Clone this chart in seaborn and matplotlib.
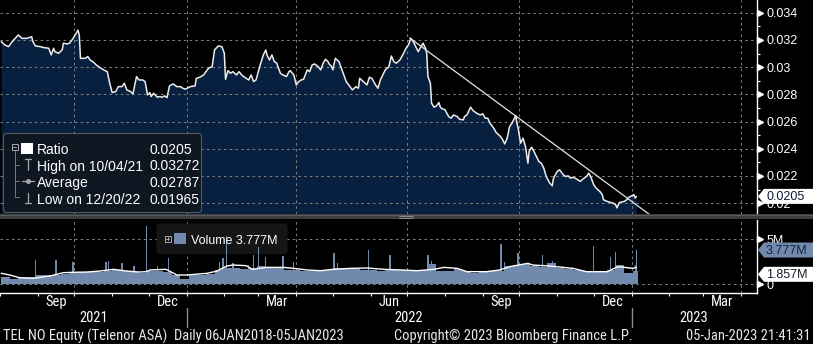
import numpy as np
import pandas as pd
import matplotlib
matplotlib.use("Agg")
import matplotlib.pyplot as plt
import matplotlib.dates as mdates
import matplotlib.transforms as mtransforms
from matplotlib import font_manager
from matplotlib.font_manager import FontProperties
from matplotlib.patches import Polygon, FancyBboxPatch, Rectangle
from matplotlib.lines import Line2D
from matplotlib.ticker import FixedLocator, FuncFormatter
import seaborn as sns

# ---------------------------------------------------------------- data
# TEL NO ratio, sampled closes
ratio_dates = [
    "2021-08-02", "2021-08-05", "2021-08-08", "2021-08-11", "2021-08-16", "2021-08-19",
    "2021-08-23", "2021-08-27", "2021-08-28", "2021-08-30", "2021-09-03", "2021-09-06",
    "2021-09-10", "2021-09-12", "2021-09-14", "2021-09-15", "2021-09-18", "2021-09-21",
    "2021-09-22", "2021-09-25", "2021-09-27", "2021-09-30", "2021-10-04", "2021-10-05",
    "2021-10-06", "2021-10-10", "2021-10-12", "2021-10-14", "2021-10-17", "2021-10-19",
    "2021-10-22", "2021-10-25", "2021-10-28", "2021-10-30", "2021-11-01", "2021-11-04",
    "2021-11-06", "2021-11-09", "2021-11-11", "2021-11-13", "2021-11-16", "2021-11-18",
    "2021-11-21", "2021-11-23", "2021-11-26", "2021-11-28", "2021-11-30", "2021-12-02",
    "2021-12-03", "2021-12-05", "2021-12-08", "2021-12-10", "2021-12-12", "2021-12-14",
    "2021-12-16", "2021-12-18", "2021-12-21", "2021-12-24", "2021-12-27", "2021-12-29",
    "2021-12-31", "2022-01-04", "2022-01-08", "2022-01-09", "2022-01-12", "2022-01-15",
    "2022-01-19", "2022-01-22", "2022-01-24", "2022-01-27", "2022-01-30", "2022-02-01",
    "2022-02-02", "2022-02-04", "2022-02-06", "2022-02-08", "2022-02-11", "2022-02-13",
    "2022-02-16", "2022-02-19", "2022-02-21", "2022-02-23", "2022-02-25", "2022-02-27",
    "2022-03-02", "2022-03-05", "2022-03-07", "2022-03-08", "2022-03-10", "2022-03-12",
    "2022-03-14", "2022-03-16", "2022-03-19", "2022-03-21", "2022-03-24", "2022-03-26",
    "2022-03-27", "2022-03-30", "2022-04-01", "2022-04-03", "2022-04-05", "2022-04-07",
    "2022-04-10", "2022-04-12", "2022-04-14", "2022-04-16", "2022-04-19", "2022-04-21",
    "2022-04-23", "2022-04-25", "2022-04-27", "2022-04-28", "2022-04-30", "2022-05-01",
    "2022-05-03", "2022-05-06", "2022-05-08", "2022-05-12", "2022-05-17", "2022-05-20",
    "2022-05-22", "2022-05-23", "2022-05-26", "2022-05-29", "2022-05-31", "2022-06-02",
    "2022-06-05", "2022-06-07", "2022-06-09", "2022-06-13", "2022-06-16", "2022-06-18",
    "2022-06-20", "2022-06-22", "2022-06-25", "2022-06-28", "2022-06-30", "2022-07-02",
    "2022-07-04", "2022-07-06", "2022-07-08", "2022-07-10", "2022-07-12", "2022-07-14",
    "2022-07-16", "2022-07-17", "2022-07-18", "2022-07-20", "2022-07-21", "2022-07-23",
    "2022-07-25", "2022-07-27", "2022-07-28", "2022-07-29", "2022-08-01", "2022-08-04",
    "2022-08-06", "2022-08-08", "2022-08-11", "2022-08-13", "2022-08-16", "2022-08-17",
    "2022-08-19", "2022-08-22", "2022-08-24", "2022-08-27", "2022-08-30", "2022-09-01",
    "2022-09-03", "2022-09-05", "2022-09-07", "2022-09-10", "2022-09-12", "2022-09-15",
    "2022-09-17", "2022-09-19", "2022-09-21", "2022-09-23", "2022-09-25", "2022-09-27",
    "2022-09-28", "2022-09-29", "2022-09-30", "2022-10-02", "2022-10-04", "2022-10-06",
    "2022-10-08", "2022-10-09", "2022-10-11", "2022-10-13", "2022-10-15", "2022-10-17",
    "2022-10-19", "2022-10-21", "2022-10-23", "2022-10-26", "2022-10-28", "2022-10-29",
    "2022-11-01", "2022-11-03", "2022-11-06", "2022-11-08", "2022-11-10", "2022-11-12",
    "2022-11-14", "2022-11-17", "2022-11-20", "2022-11-22", "2022-11-25", "2022-11-27",
    "2022-11-29", "2022-12-01", "2022-12-03", "2022-12-06", "2022-12-08", "2022-12-09",
    "2022-12-12", "2022-12-15", "2022-12-17", "2022-12-19", "2022-12-20", "2022-12-22",
    "2022-12-26", "2022-12-28", "2022-12-30", "2023-01-03", "2023-01-04", "2023-01-05",
]
ratio_values = [
    0.03188, 0.03163, 0.03151, 0.03188, 0.03237, 0.03212,
    0.03212, 0.03224, 0.03188, 0.03156, 0.03151, 0.03144,
    0.03139, 0.03090, 0.03139, 0.03114, 0.03102, 0.03127,
    0.03176, 0.03171, 0.03176, 0.03212, 0.03272, 0.03237,
    0.03065, 0.03065, 0.03078, 0.03053, 0.03034, 0.03016,
    0.02997, 0.02980, 0.02967, 0.02882, 0.02813, 0.02821,
    0.02857, 0.02857, 0.02882, 0.02833, 0.02821, 0.02803,
    0.02931, 0.02906, 0.02906, 0.02894, 0.02796, 0.02813,
    0.02784, 0.02808, 0.02779, 0.02784, 0.02779, 0.02789,
    0.02776, 0.02862, 0.02877, 0.02857, 0.02857, 0.02845,
    0.02838, 0.02857, 0.02862, 0.02918, 0.02926, 0.02943,
    0.02992, 0.03004, 0.03127, 0.03156, 0.03151, 0.03102,
    0.02911, 0.02975, 0.02955, 0.02967, 0.02943, 0.02967,
    0.02936, 0.02918, 0.02906, 0.02943, 0.02894, 0.02906,
    0.03004, 0.03090, 0.03127, 0.03090, 0.03053, 0.03090,
    0.03041, 0.03029, 0.02955, 0.02943, 0.02931, 0.02967,
    0.02975, 0.02943, 0.02870, 0.02894, 0.02906, 0.02911,
    0.02980, 0.02967, 0.03016, 0.03024, 0.03004, 0.02980,
    0.03029, 0.03058, 0.03041, 0.03024, 0.03004, 0.02980,
    0.03065, 0.03041, 0.02992, 0.02894, 0.02833, 0.02857,
    0.02845, 0.02918, 0.02894, 0.02870, 0.02926, 0.02918,
    0.02870, 0.02845, 0.02906, 0.02980, 0.03004, 0.03082,
    0.03041, 0.03029, 0.03053, 0.03102, 0.03139, 0.03163,
    0.03212, 0.03188, 0.03151, 0.03114, 0.03146, 0.03176,
    0.03139, 0.03102, 0.02931, 0.02882, 0.02735, 0.02706,
    0.02715, 0.02740, 0.02710, 0.02698, 0.02686, 0.02637,
    0.02625, 0.02649, 0.02637, 0.02617, 0.02612, 0.02637,
    0.02649, 0.02706, 0.02681, 0.02661, 0.02649, 0.02657,
    0.02625, 0.02625, 0.02588, 0.02551, 0.02519, 0.02495,
    0.02471, 0.02436, 0.02478, 0.02564, 0.02588, 0.02625,
    0.02644, 0.02588, 0.02551, 0.02441, 0.02478, 0.02417,
    0.02294, 0.02380, 0.02412, 0.02380, 0.02343, 0.02306,
    0.02294, 0.02258, 0.02196, 0.02147, 0.02128, 0.02184,
    0.02233, 0.02245, 0.02209, 0.02196, 0.02201, 0.02184,
    0.02191, 0.02177, 0.02160, 0.02177, 0.02196, 0.02221,
    0.02184, 0.02135, 0.02111, 0.02086, 0.02062, 0.02025,
    0.02013, 0.02005, 0.02000, 0.01988, 0.01965, 0.02005,
    0.02013, 0.02025, 0.02045, 0.02062, 0.02038, 0.02050,
]

# resistance line across the July and September 2022 highs
trend_dates = ["2022-07-03", "2023-01-16"]
trend_values = [0.03215, 0.01915]

# volume in millions: weekly level (by week start) plus the heavy sessions
volume_week_first = "2021-08-02"
volume_week_values = [
    0.8, 0.6, 0.8, 0.8, 1.0, 1.0, 1.0, 1.1, 1.2, 1.3,
    1.3, 1.3, 1.5, 1.6, 1.4, 1.3, 1.2, 1.4, 1.4, 1.3,
    1.0, 0.6, 1.0, 1.0, 1.1, 1.6, 1.8, 1.8, 1.7, 1.8,
    2.0, 1.9, 1.9, 1.6, 1.6, 1.5, 1.5, 1.6, 1.6, 1.8,
    1.7, 1.7, 1.6, 1.6, 1.5, 1.6, 1.6, 1.55, 1.55, 1.6,
    2.2, 1.4, 1.5, 1.7, 1.5, 1.25, 1.3, 1.4, 1.5, 2.0,
    2.1, 2.2, 2.0, 1.9, 2.3, 1.8, 1.7, 1.6, 1.4, 1.4,
    1.4, 1.6, 2.1, 1.2, 1.4,
]
volume_day_dates = [
    "2021-08-30", "2021-09-16", "2021-09-30", "2021-10-27", "2021-10-29", "2021-11-09",
    "2021-11-19", "2021-11-29", "2021-12-08", "2021-12-17", "2022-01-28", "2022-01-31",
    "2022-02-03", "2022-02-08", "2022-02-21", "2022-02-25", "2022-03-01", "2022-03-07",
    "2022-03-21", "2022-03-30", "2022-05-02", "2022-05-05", "2022-05-30", "2022-06-17",
    "2022-07-18", "2022-07-21", "2022-09-16", "2022-09-19", "2022-09-30", "2022-10-20",
    "2022-10-28", "2022-12-01", "2022-12-15", "2022-12-19", "2023-01-04", "2023-01-05",
]
volume_day_values = [
    2.7, 2.7, 2.4, 2.5, 2.6, 2.3,
    2.0, 6.4, 2.0, 2.9, 2.5, 2.9,
    5.3, 2.3, 2.1, 3.2, 4.1, 3.0,
    3.1, 2.4, 3.4, 2.3, 3.8, 3.2,
    3.2, 2.6, 4.5, 2.5, 3.5, 3.2,
    2.6, 4.2, 3.0, 3.6, 2.1, 3.777,
]

# volume moving average (millions)
volume_ma_dates = [
    "2021-08-02", "2021-08-09", "2021-08-17", "2021-08-28", "2021-09-11", "2021-09-22",
    "2021-09-30", "2021-10-11", "2021-10-22", "2021-11-02", "2021-11-13", "2021-11-23",
    "2021-11-29", "2021-12-02", "2021-12-15", "2021-12-19", "2021-12-24", "2022-01-01",
    "2022-01-18", "2022-01-26", "2022-02-03", "2022-02-08", "2022-02-19", "2022-02-24",
    "2022-03-02", "2022-03-08", "2022-03-21", "2022-03-30", "2022-04-10", "2022-04-21",
    "2022-05-01", "2022-05-15", "2022-05-29", "2022-06-12", "2022-06-26", "2022-07-09",
    "2022-07-23", "2022-07-31", "2022-08-11", "2022-08-19", "2022-09-04", "2022-09-15",
    "2022-09-23", "2022-10-08", "2022-10-12", "2022-10-26", "2022-11-14", "2022-11-25",
    "2022-12-12", "2022-12-21", "2023-01-02", "2023-01-05",
]
volume_ma_values = [
    1.19, 1.0, 0.70, 0.63, 0.89, 1.26,
    1.30, 1.33, 1.44, 1.63, 1.44, 1.33,
    1.37, 1.56, 1.63, 1.37, 1.0, 1.0,
    1.19, 1.44, 2.0, 2.11, 2.04, 1.63,
    1.74, 1.85, 1.85, 1.74, 1.56, 1.48,
    1.63, 1.74, 1.78, 1.63, 1.56, 1.48,
    1.63, 1.85, 1.74, 1.37, 1.37, 1.56,
    1.93, 2.30, 2.11, 2.0, 1.74, 1.37,
    1.37, 1.93, 1.74, 1.857,
]

legend_labels = ["Ratio", "High on 10/04/21", "Average", "Low on 12/20/22"]
legend_values = ["0.0205", "0.03272", "0.02787", "0.01965"]
last_ratio = 0.0205
last_volume = 3.777
last_volume_ma = 1.857
ratio_ticks = [0.020, 0.022, 0.024, 0.026, 0.028, 0.030, 0.032, 0.034]
ratio_minor_ticks = [0.021, 0.023, 0.025, 0.027, 0.029, 0.031, 0.033]
volume_ticks = [0, 5]
volume_tick_labels = ["0", "5M"]
footer_left = "TEL NO Equity (Telenor ASA)  Daily 06JAN2018-05JAN2023"
footer_mid = "Copyright\u00a9 2023 Bloomberg Finance L.P."
footer_right = "05-Jan-2023 21:41:31"

# ---------------------------------------------------------------- style
BG = "black"
NAVY = "#08203f"
LINE = "#ececec"
GRID = "#7c7c7c"
VOL = "#7089ad"
DASH = (0, (2.5, 3))

sns.set_theme(style="dark", rc={"axes.facecolor": BG, "figure.facecolor": BG})
avail = {f.name for f in font_manager.fontManager.ttflist}
SANS = "Liberation Sans" if "Liberation Sans" in avail else "DejaVu Sans"
plt.rcParams["font.family"] = [SANS, "DejaVu Sans"]


def narrow_font_file():
    """Pick an upright regular condensed face for the footer and date axis."""
    skip = ("bold", "italic", "oblique", "light", "thin", "medium", "black", "semi", "extra")
    files = [f.fname for f in font_manager.fontManager.ttflist]
    for key in ("liberationsansnarrow-regular", "robotocondensed-regular",
                "notosans-condensed.", "notosans_condensed-regular", "opensans_condensed-regular",
                "opensans-condensed", "dejavusanscondensed.", "condensed", "narrow"):
        for fn in files:
            base = fn.lower().rsplit("/", 1)[-1]
            if key in base and (key.endswith("regular") or not any(s in base.replace(key, "") for s in skip)):
                return fn
    return None


NARROW_FILE = narrow_font_file()


def narrow(size):
    if NARROW_FILE:
        return FontProperties(fname=NARROW_FILE, size=size)
    return FontProperties(family=SANS, size=size)


W, H = 813, 344
fig = plt.figure(figsize=(W / 100, H / 100), dpi=100)
fig.patch.set_facecolor(BG)
# pixel coordinates with the origin at the top-left corner
PX = mtransforms.Affine2D().scale(1.0 / W, -1.0 / H).translate(0, 1) + fig.transFigure


def rect(x0, y0, x1, y1):
    return [x0 / W, 1 - y1 / H, (x1 - x0) / W, (y1 - y0) / H]


ax = fig.add_axes(rect(0, 0, 756.5, 213.5))
axv = fig.add_axes(rect(0, 219.5, 756.5, 292.5), sharex=ax)

rd = pd.to_datetime(ratio_dates)
XMIN = mdates.date2num(pd.Timestamp("2021-08-01"))
XMAX = mdates.date2num(pd.Timestamp("2023-04-13 12:00"))
YMIN, YMAX = 0.01924, 0.03494

# ---------------------------------------------------------------- ratio panel
ax.fill_between(mdates.date2num(rd), ratio_values, YMIN, color=NAVY, lw=0, zorder=1)
sns.lineplot(x=mdates.date2num(rd), y=ratio_values, ax=ax, color=LINE, linewidth=1.1, zorder=4)
ax.plot(mdates.date2num(pd.to_datetime(trend_dates)), trend_values, color="#e4e4e4", lw=0.9, zorder=4)

# ---------------------------------------------------------------- volume panel
wk = pd.date_range(volume_week_first, periods=len(volume_week_values), freq="7D")
edges = list(mdates.date2num(wk)) + [mdates.date2num(rd[-1] + pd.Timedelta(days=1))]
axv.bar(edges[:-1], volume_week_values, width=np.diff(edges), align="edge",
        color=VOL, lw=0, zorder=3)
axv.bar(mdates.date2num(pd.to_datetime(volume_day_dates)), volume_day_values, width=1.1,
        color=VOL, lw=0, zorder=3)
sns.lineplot(x=mdates.date2num(pd.to_datetime(volume_ma_dates)), y=volume_ma_values, ax=axv,
             color="white", linewidth=1.0, zorder=4)

ax.set_xlim(XMIN, XMAX)
ax.set_ylim(YMIN, YMAX)
axv.set_ylim(-0.944, 7.17)

for a in (ax, axv):
    a.set_facecolor(BG)
    a.set_xlabel("")
    a.set_ylabel("")
    a.grid(False)
    a.set_axisbelow(False)
    for s in a.spines.values():
        s.set_visible(False)
    a.spines["right"].set_visible(True)
    a.spines["right"].set_color("white")
    a.spines["right"].set_linewidth(1.0)
axv.spines["bottom"].set_visible(True)
axv.spines["bottom"].set_color("white")
axv.spines["bottom"].set_linewidth(1.0)

# dashed grid
for v in ratio_ticks:
    ax.axhline(v, color=GRID, lw=0.75, ls=DASH, zorder=3)
for v in volume_ticks:
    axv.axhline(v, color=GRID, lw=0.75, ls=DASH, zorder=2.5)
for q in pd.date_range("2021-10-01", "2023-04-01", freq="QS"):
    ax.axvline(mdates.date2num(q), color=GRID, lw=0.75, ls=DASH, zorder=3)
    axv.axvline(mdates.date2num(q), color=GRID, lw=0.75, ls=DASH, zorder=2.5)

# right-hand value axes
ax.yaxis.tick_right()
ax.yaxis.set_major_locator(FixedLocator(ratio_ticks))
ax.yaxis.set_minor_locator(FixedLocator(ratio_minor_ticks))
ax.yaxis.set_major_formatter(FuncFormatter(lambda v, p: f"{v:g}"))
ax.tick_params(axis="y", which="major", length=0, pad=7, labelsize=9, labelcolor="white",
               right=True, left=False, labelright=True, labelleft=False)
ax.tick_params(axis="y", which="minor", length=2.5, width=0.8, color="white",
               right=True, left=False, direction="out")
axv.yaxis.tick_right()
axv.set_yticks(volume_ticks, volume_tick_labels)
axv.tick_params(axis="y", which="major", length=0, pad=7, labelsize=9, labelcolor="white",
                right=True, left=False, labelright=True, labelleft=False)
for t in ax.get_yticklabels() + axv.get_yticklabels():
    t.set_fontfamily(SANS)

tri = mtransforms.ScaledTranslation(2.6 / 72, 0, fig.dpi_scale_trans)
for a, ticks in ((ax, ratio_ticks), (axv, volume_ticks)):
    tr = mtransforms.blended_transform_factory(a.transAxes, a.transData) + tri
    a.plot([1.0] * len(ticks), ticks, ls="none", marker=">", ms=4.5, color="white",
           transform=tr, clip_on=False, zorder=6)

# month ticks along the bottom
axv.xaxis.set_major_locator(mdates.MonthLocator())
ax.tick_params(axis="x", which="both", bottom=False, labelbottom=False)
axv.tick_params(axis="x", which="major", length=2.5, width=0.8, color="white",
                bottom=True, labelbottom=False, direction="out")

# ---------------------------------------------------------------- footer, sized to its line
FOOT = "#e8e8e8"
foot = fig.text(3, 336, footer_left, transform=PX, color=FOOT, va="center", ha="left",
                fontproperties=narrow(10.5))
fig.canvas.draw()
w_now = foot.get_window_extent(fig.canvas.get_renderer()).width
BOTTOM_SIZE = 10.5 * 342.0 / max(w_now, 1.0)
foot.set_fontproperties(narrow(BOTTOM_SIZE))
fig.text(394, 336, footer_mid, transform=PX, color=FOOT, va="center", ha="left",
         fontproperties=narrow(BOTTOM_SIZE))
fig.text(811, 336, footer_right, transform=PX, color=FOOT, va="center", ha="right",
         fontproperties=narrow(BOTTOM_SIZE))

tb = mtransforms.blended_transform_factory(axv.transData, PX)
for m in pd.date_range("2021-08-01", "2023-04-01", freq="MS"):
    if m.month in (3, 6, 9, 12):
        mid = mdates.date2num(m) + m.days_in_month / 2
        fig.text(mid, 302, m.strftime("%b"), transform=tb, ha="center", va="center",
                 color="white", fontproperties=narrow(BOTTOM_SIZE))
for yr in (2021, 2022, 2023):
    a0 = max(mdates.date2num(pd.Timestamp(f"{yr}-01-01")), XMIN)
    a1 = min(mdates.date2num(pd.Timestamp(f"{yr + 1}-01-01")), XMAX)
    fig.text((a0 + a1) / 2, 318.5, str(yr), transform=tb, ha="center", va="center",
             color="white", fontproperties=narrow(BOTTOM_SIZE))
    if yr > 2021:
        fig.add_artist(Line2D([a0, a0], [308, 327], transform=tb, color="#8c8c8c", lw=1))

# panel divider
fig.add_artist(Rectangle((0, 214), W, 5, transform=PX, color="#3d3d3d", lw=0))
fig.add_artist(Line2D([0, W], [214.5, 214.5], transform=PX, color="#5a5a5a", lw=0.8))
for yy in (216.0, 217.5):
    fig.add_artist(Line2D([399, 413], [yy, yy], transform=PX, color="#9a9a9a", lw=0.6))

# ---------------------------------------------------------------- legends
fig.add_artist(FancyBboxPatch((3.5, 133.5), 198, 79, boxstyle="round,pad=0,rounding_size=3",
                              transform=PX, fc="#0f1620", ec="#5c5c5c", lw=0.8, alpha=0.94))
ICON = "#a8a8a8"
fig.add_artist(Rectangle((11.5, 143.5), 6, 6, transform=PX, fc="none", ec=ICON, lw=0.7))
fig.add_artist(Line2D([13, 16], [146.5, 146.5], transform=PX, color=ICON, lw=0.7))
fig.add_artist(Line2D([14.5, 14.5], [150.5, 197], transform=PX, color="#7a7a7a", lw=0.7))
for yy in (164.5, 181, 197):
    fig.add_artist(Line2D([14.5, 19], [yy, yy], transform=PX, color="#7a7a7a", lw=0.7))
fig.add_artist(Rectangle((21, 142.5), 11.5, 11.5, transform=PX, fc="white", lw=0))
fig.add_artist(Line2D([24.5, 31], [158.5, 158.5], transform=PX, color=ICON, lw=0.9))
fig.add_artist(Line2D([27.8, 27.8], [158.5, 169.5], transform=PX, color=ICON, lw=0.9))
fig.add_artist(Line2D([21.5, 33.5], [181, 181], transform=PX, color=ICON, lw=0.9))
fig.add_artist(Line2D([27.8], [181], transform=PX, color=ICON, marker="o", ms=2.6, lw=0))
fig.add_artist(Line2D([27.8, 27.8], [192.5, 203], transform=PX, color=ICON, lw=0.9))
fig.add_artist(Line2D([24.5, 31], [203, 203], transform=PX, color=ICON, lw=0.9))
for i, (lab, val) in enumerate(zip(legend_labels, legend_values)):
    yb = 154 + 16.5 * i
    fig.text(37, yb, lab, transform=PX, color="white", fontsize=10, va="baseline", family=SANS)
    fig.text(149, yb, val, transform=PX, color="white", fontsize=10, va="baseline", family=SANS)

axv.add_patch(FancyBboxPatch((157, 224), 130, 29.5, boxstyle="round,pad=0,rounding_size=3",
                             transform=PX, fc="#151515", ec="#1c1c1c", lw=0.6,
                             zorder=2.8, clip_on=False))
axv.add_patch(Rectangle((165, 236), 5.5, 5.5, transform=PX, fc="none", ec=ICON, lw=0.7,
                        zorder=5, clip_on=False))
axv.add_line(Line2D([166.3, 169.2], [238.75, 238.75], transform=PX, color=ICON, lw=0.7,
                    zorder=5, clip_on=False))
axv.add_line(Line2D([167.75, 167.75], [237.3, 240.2], transform=PX, color=ICON, lw=0.7,
                    zorder=5, clip_on=False))
axv.add_patch(Rectangle((174, 232.5), 11.5, 11.5, transform=PX, fc=VOL, lw=0,
                        zorder=5, clip_on=False))
axv.text(190.5, 244.5, f"Volume {last_volume:.3f}M", transform=PX, color="white",
         fontsize=9, va="baseline", family=SANS, zorder=5, clip_on=False)


# ---------------------------------------------------------------- value tags
def tag(yc, text, fc, tc):
    pts = [(758, yc), (764, yc - 7.5), (W, yc - 7.5), (W, yc + 7.5), (764, yc + 7.5)]
    fig.add_artist(Polygon(pts, closed=True, transform=PX, fc=fc, ec="none"))
    fig.text(766, yc + 0.5, text, transform=PX, color=tc, fontsize=9, va="center",
             ha="left", family=SANS)


def ypix(a, v):
    return H - a.transData.transform((XMIN, v))[1]


tag(ypix(ax, last_ratio), f"{last_ratio:g}", "white", "#0b1a33")
tag(ypix(axv, last_volume), f"{last_volume:.3f}M", VOL, "#13223d")
tag(ypix(axv, last_volume_ma) + 7, f"{last_volume_ma:.3f}M", "white", "#1b1b28")

fig.savefig("out.png", dpi=100, facecolor=BG)
